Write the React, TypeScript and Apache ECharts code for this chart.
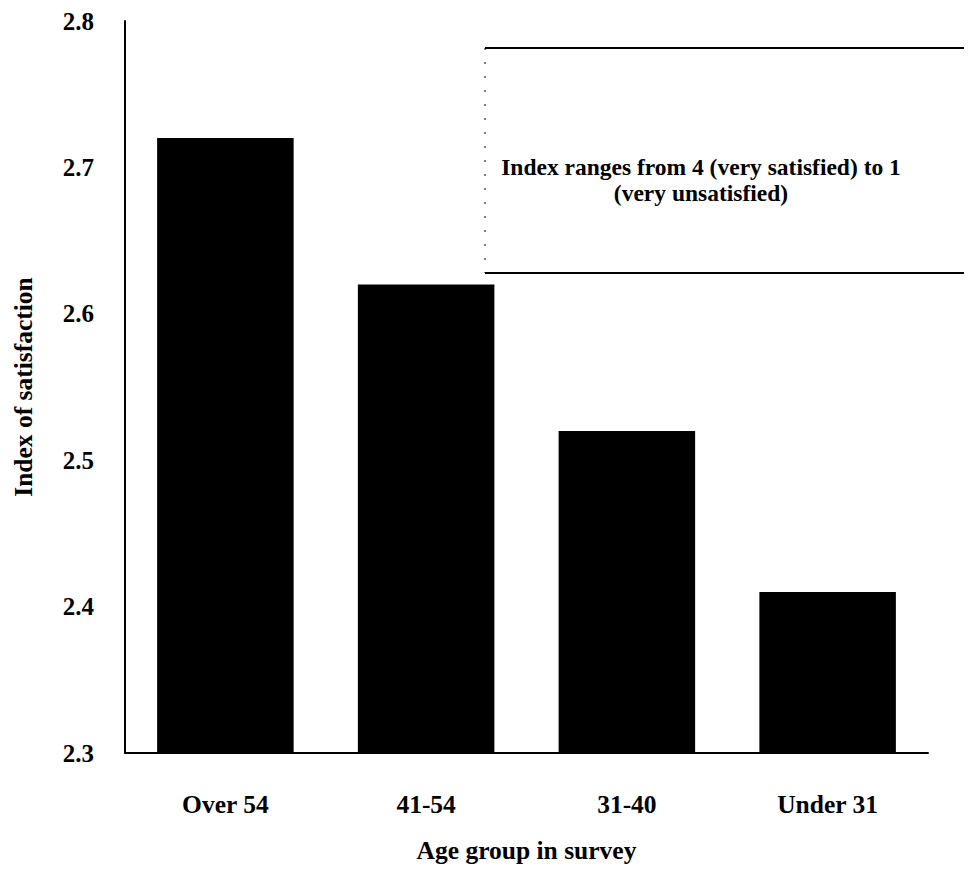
import React, { useEffect, useRef } from "react";
import * as echarts from "echarts";

const categories = ["Over 54", "41-54", "31-40", "Under 31"];
const satisfaction = [2.72, 2.62, 2.52, 2.41];
const yTicks = [2.3, 2.4, 2.5, 2.6, 2.7, 2.8];
const xTitle = "Age group in survey";
const yTitle = "Index of satisfaction";
const noteLines = ["Index ranges from 4 (very satisfied) to 1", "(very unsatisfied)"];

const FONT = '"Liberation Serif", "DejaVu Serif", serif';

export default function App() {
  const ref = useRef<HTMLDivElement>(null);
  useEffect(() => {
    if (!ref.current) return;
    const chart = echarts.init(ref.current, null, { renderer: "svg" });
    chart.setOption({
      animation: false,
      backgroundColor: "#ffffff",
      grid: { left: 117, right: 36, top: 13, bottom: 114, outerBoundsMode: "none", containLabel: false },
      xAxis: {
        type: "category",
        data: categories,
        axisLine: { show: true, lineStyle: { color: "#000", width: 2 } },
        axisTick: { show: false },
        axisLabel: {
          color: "#000",
          fontFamily: FONT,
          fontWeight: "bold",
          fontSize: 25.5,
          margin: 38,
        },
        name: xTitle,
        nameLocation: "middle",
        nameGap: 84,
        nameTextStyle: { color: "#000", fontFamily: FONT, fontWeight: "bold", fontSize: 25.5 },
      },
      yAxis: {
        type: "value",
        min: yTicks[0],
        max: yTicks[yTicks.length - 1],
        interval: 0.1,
        splitLine: { show: false },
        axisLine: { show: true, lineStyle: { color: "#000", width: 2 } },
        axisTick: { show: false },
        axisLabel: {
          color: "#000",
          fontFamily: FONT,
          fontWeight: "bold",
          fontSize: 25,
          margin: 31,
          formatter: (v: number) => v.toFixed(1),
        },
        name: yTitle,
        nameLocation: "middle",
        nameGap: 89,
        nameRotate: 90,
        nameTextStyle: { color: "#000", fontFamily: FONT, fontWeight: "bold", fontSize: 25.5 },
      },
      series: [
        {
          type: "bar",
          data: satisfaction,
          barCategoryGap: "32%",
          itemStyle: { color: "#000" },
        },
      ],
      graphic: [
        {
          type: "line",
          shape: { x1: 477, y1: 40, x2: 964, y2: 40 },
          style: { stroke: "#000", lineWidth: 2 },
        },
        {
          type: "line",
          shape: { x1: 477, y1: 265, x2: 964, y2: 265 },
          style: { stroke: "#000", lineWidth: 2 },
        },
        {
          type: "line",
          shape: { x1: 477, y1: 40, x2: 477, y2: 265 },
          style: { stroke: "#000", lineWidth: 1, lineDash: [2, 12] },
        },
        {
          type: "text",
          x: 693,
          y: 172,
          style: {
            text: noteLines.join("\n"),
            fill: "#000",
            font: `bold 23.5px ${FONT}`,
            align: "center",
            verticalAlign: "middle",
            lineHeight: 26,
          },
        },
      ],
    });
    return () => chart.dispose();
  }, []);
  return <div ref={ref} style={{ width: 956, height: 859 }} />;
}
